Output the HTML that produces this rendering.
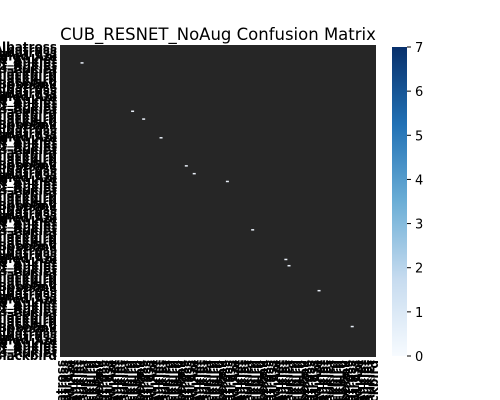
<!DOCTYPE html>
<html><head><meta charset="utf-8"><style>
html,body{margin:0;background:#fff;width:500px;height:400px;overflow:hidden;}
svg{display:block;font-family:"DejaVu Sans","Liberation Sans",sans-serif;overflow:hidden;}
</style></head><body>
<svg id="chart" width="500" height="400" viewBox="0 0 500 400">
<defs><linearGradient id="blues" x1="0" y1="1" x2="0" y2="0">
<stop offset="0" stop-color="#f7fbff"/><stop offset="0.25" stop-color="#c6dbef"/><stop offset="0.5" stop-color="#6baed6"/><stop offset="0.75" stop-color="#2171b5"/><stop offset="1" stop-color="#08306b"/></linearGradient></defs>
<text x="218" y="40" text-anchor="middle" font-size="16.5" fill="#000">CUB_RESNET_NoAug Confusion Matrix</text>
<rect x="60" y="45" width="316" height="312" fill="#262626"/>
<g id="cells"></g><g id="ylabels"></g><g id="xlabels"></g>
<rect x="392" y="47" width="15" height="309" fill="url(#blues)"/>
<g id="cbticks"></g>
</svg>
<script>
const nClasses = 200;
const hiRows = [11, 42, 47, 59, 77, 82, 87, 118, 137, 141, 157, 180];
const hiCols = [13, 45, 52, 63, 79, 84, 105, 121, 142, 144, 163, 184];
const hiVals = [1, 1, 1, 1, 1, 1, 1, 1, 1, 1, 1, 1];
const cbTicks = [0, 1, 2, 3, 4, 5, 6, 7];
const vmax = 7;
const X0 = 60, Y0 = 45, W = 316, H = 312;
const cw = W / nClasses, ch = H / nClasses;
const xs = i => X0 + i * cw, ys = i => Y0 + i * ch;
const ns = "http://www.w3.org/2000/svg";
const cells = document.getElementById('cells');
hiRows.forEach((r, k) => {
  const el = document.createElementNS(ns, 'rect');
  el.setAttribute('x', xs(hiCols[k])); el.setAttribute('y', ys(hiRows[k]));
  el.setAttribute('width', 3); el.setAttribute('height', 1.5);
  el.setAttribute('fill', hiVals[k] / vmax < 0.5 ? '#e8eef7' : '#08306b');
  
  
  cells.appendChild(el);
});
const names = ["Black_footed_Albatross","Laysan_Albatross","Sooty_Albatross","Groove_billed_Ani","Crested_Auklet","Least_Auklet","Parakeet_Auklet","Rhinoceros_Auklet","Brewer_Blackbird","Red_winged_Blackbird","Rusty_Blackbird","Yellow_headed_Blackbird","Bobolink"];
const yl = document.getElementById('ylabels'), xl = document.getElementById('xlabels');
for (let i = 0; i < nClasses; i += 2) {
  const t = document.createElementNS(ns, 'text');
  t.setAttribute('x', 57); t.setAttribute('y', ys(i) + 6);
  t.setAttribute('text-anchor', 'end'); t.setAttribute('font-size', '12');
  t.setAttribute('font-weight', 'bold');
  t.textContent = names[(i / 2) % names.length];
  
  
  yl.appendChild(t);
  const u = document.createElementNS(ns, 'text');
  u.setAttribute('transform', `translate(${xs(i) + 5},360) rotate(-90)`);
  u.setAttribute('text-anchor', 'end'); u.setAttribute('font-size', '12');
  u.setAttribute('font-weight', 'bold');
  u.textContent = names[(i / 2) % names.length];
  
  
  xl.appendChild(u);
}
const cb = document.getElementById('cbticks');
cbTicks.forEach(v => {
  const y = 356 - v / vmax * 309;
  const l = document.createElementNS(ns, 'line');
  l.setAttribute('x1', 407); l.setAttribute('x2', 411); l.setAttribute('y1', y); l.setAttribute('y2', y);
  l.setAttribute('stroke', '#000');
  
  
  cb.appendChild(l);
  const t = document.createElementNS(ns, 'text');
  t.setAttribute('x', 415); t.setAttribute('y', y + 5); t.setAttribute('font-size', '13');
  t.textContent = v;
  
  
  cb.appendChild(t);
});
</script>
</body></html>
